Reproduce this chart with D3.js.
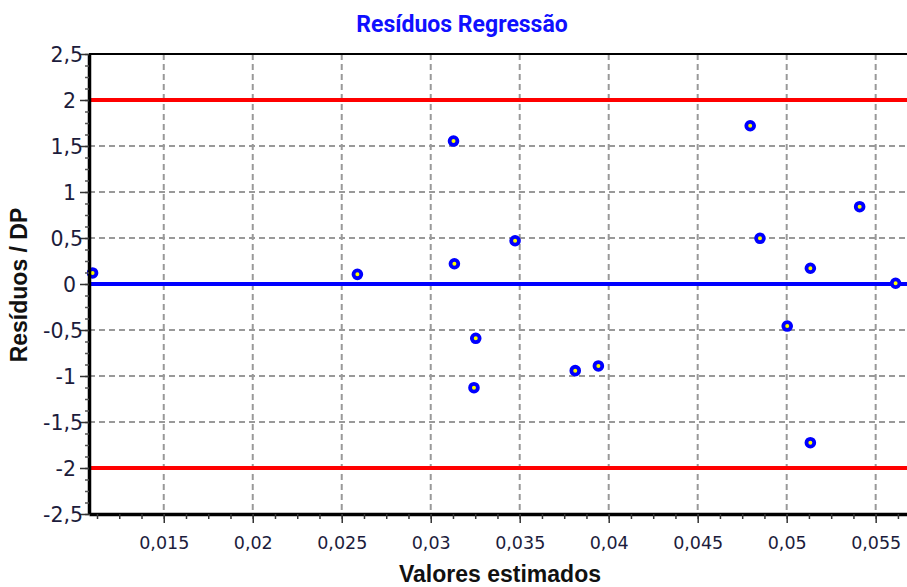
<!DOCTYPE html>
<html><head><meta charset="utf-8">
<script src="https://cdn.jsdelivr.net/npm/d3@7/dist/d3.min.js"></script>
<style>body{margin:0;background:#fff}svg{display:block}</style></head>
<body>
<svg id="c" width="907" height="587"></svg>
<script>
// ---- data ----
const xValues = [0.0110, 0.02588, 0.03128, 0.03133, 0.03474, 0.03253, 0.03243, 0.03812, 0.03942, 0.04795, 0.0485, 0.05003, 0.05133, 0.05133, 0.0541, 0.05612];
const yValues = [0.12, 0.105, 1.554, 0.22, 0.47, -0.59, -1.127, -0.942, -0.891, 1.72, 0.497, -0.457, 0.171, -1.725, 0.84, 0.008];
const xTicks = [0.015, 0.02, 0.025, 0.03, 0.035, 0.04, 0.045, 0.05, 0.055];
const xTickLabels = ["0,015", "0,02", "0,025", "0,03", "0,035", "0,04", "0,045", "0,05", "0,055"];
const yTicks = [2.5, 2, 1.5, 1, 0.5, 0, -0.5, -1, -1.5, -2, -2.5];
const yTickLabels = ["2,5", "2", "1,5", "1", "0,5", "0", "-0,5", "-1", "-1,5", "-2", "-2,5"];
const limitLines = [2, -2];
const zeroLine = [0];
const xDomain = [0.0108, 0.05676];
const yDomain = [-2.5, 2.5];
const xMinorStep = 0.00125, yMinorStep = 0.125;

// ---- layout ----
const L = 89, R = 907, T = 54, B = 514;
const svg = d3.select("#c");
const x = d3.scaleLinear().domain(xDomain).range([L, R]);
const y = d3.scaleLinear().domain(yDomain).range([B, T]);

const xMinor = d3.range(Math.ceil(xDomain[0] / xMinorStep), Math.floor(xDomain[1] / xMinorStep) + 1).map(i => +(i * xMinorStep).toFixed(6));
const yMinor = d3.range(-20, 21).map(i => i * yMinorStep);

// grid
const grid = svg.append("g").attr("stroke", "#999").attr("stroke-width", 2).attr("stroke-dasharray", "6,4");
grid.selectAll("line.v").data(xTicks).join("line")
  .attr("x1", d => x(d)).attr("x2", d => x(d)).attr("y1", T).attr("y2", B);
grid.selectAll("line.h").data(yTicks.filter(d => d !== 2.5 && d !== -2.5)).join("line")
  .attr("x1", L).attr("x2", R).attr("y1", d => y(d)).attr("y2", d => y(d));

// reference lines
svg.append("g").selectAll("line").data(limitLines).join("line")
  .attr("x1", L).attr("x2", R).attr("y1", d => y(d)).attr("y2", d => y(d))
  .attr("stroke", "#ff0000").attr("stroke-width", 4);
svg.append("g").selectAll("line").data(zeroLine).join("line")
  .attr("x1", L).attr("x2", R).attr("y1", d => y(d)).attr("y2", d => y(d))
  .attr("stroke", "#0000ff").attr("stroke-width", 4);

// points
svg.append("g").selectAll("circle").data(xValues.map((v, i) => [v, yValues[i]])).join("circle")
  .attr("cx", d => x(d[0])).attr("cy", d => y(d[1])).attr("r", 3.9)
  .attr("fill", "#ffff00").attr("stroke", "#0000ff").attr("stroke-width", 3.8);

// top border
svg.append("line").attr("x1", L).attr("x2", R).attr("y1", T).attr("y2", T).attr("stroke", "#000").attr("stroke-width", 2);

// x axis
const gx = svg.append("g").attr("transform", `translate(0,${B})`);
gx.call(d3.axisBottom(x).tickValues(xMinor).tickSize(5).tickSizeOuter(0).tickFormat(""));
gx.call(g => g.selectAll(".tick line").attr("stroke", "#333").attr("stroke-width", 1.5));
const gx2 = svg.append("g").attr("transform", `translate(0,${B})`);
gx2.call(d3.axisBottom(x).tickValues(xTicks).tickSize(9).tickSizeOuter(0).tickFormat((d, i) => xTickLabels[i]));
gx2.select(".domain").remove();
gx2.selectAll(".tick line").attr("stroke", "#333").attr("stroke-width", 1.5);
gx2.selectAll(".tick text").attr("font-family", "DejaVu Sans").attr("font-size", 17.5).attr("fill", "#1c1c3c").attr("y", 23);
gx.select(".domain").attr("stroke", "#000").attr("stroke-width", 3.5);

// y axis
const gy = svg.append("g").attr("transform", `translate(${L},0)`);
gy.call(d3.axisLeft(y).tickValues(yMinor).tickSize(4).tickSizeOuter(0).tickFormat(""));
gy.selectAll(".tick line").attr("stroke", "#555").attr("stroke-width", 1.5);
const gy2 = svg.append("g").attr("transform", `translate(${L},0)`);
gy2.call(d3.axisLeft(y).tickValues(yTicks).tickSize(9).tickSizeOuter(0).tickFormat((d, i) => yTickLabels[i]));
gy2.select(".domain").remove();
gy2.selectAll(".tick line").attr("stroke", "#333").attr("stroke-width", 1.5);
gy2.selectAll(".tick text").attr("font-family", "DejaVu Sans").attr("font-size", 20.5).attr("fill", "#1c1c3c")
  .attr("x", (d, i) => yTickLabels[i].includes(",") ? -6 : -13).attr("dy", "0.36em");
gy.select(".domain").attr("stroke", "#000").attr("stroke-width", 3.5);

// titles
svg.append("text").attr("x", 462).attr("y", 32).attr("text-anchor", "middle")
  .attr("font-family", "Roboto").attr("font-weight", "bold").attr("font-size", 23).attr("fill", "#1010ff")
  .text("Resíduos Regressão");
svg.append("text").attr("x", 500).attr("y", 582).attr("text-anchor", "middle")
  .attr("font-family", "Liberation Sans").attr("font-weight", "bold").attr("font-size", 23).attr("fill", "#111")
  .text("Valores estimados");
svg.append("text").attr("transform", "translate(27,285) rotate(-90)").attr("text-anchor", "middle")
  .attr("font-family", "Liberation Sans").attr("font-weight", "bold").attr("font-size", 23).attr("fill", "#111")
  .text("Resíduos / DP");
</script>
</body></html>
